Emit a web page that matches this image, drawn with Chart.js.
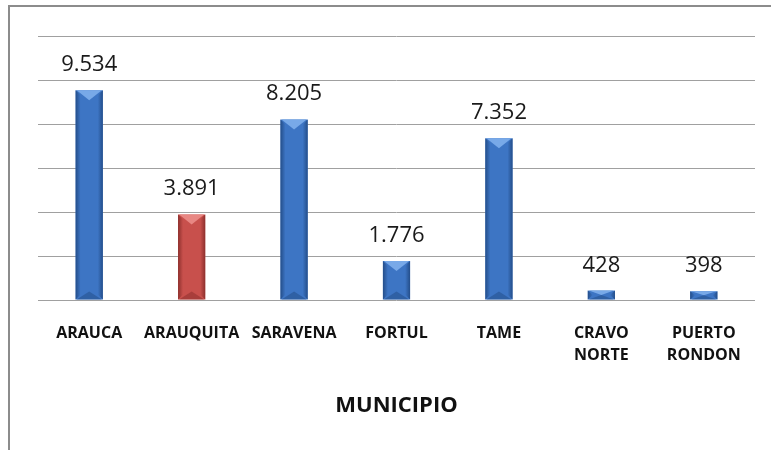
<!DOCTYPE html>
<html>
<head>
<meta charset="utf-8">
<script src="https://cdn.jsdelivr.net/npm/chart.js@4/dist/chart.umd.min.js"></script>
<style>
  html, body { margin: 0; padding: 0; background: #fff; overflow: hidden; }
  #wrap { position: relative; width: 771px; height: 450px; }
  #frame {
    position: absolute; left: 8px; top: 5px; width: 800px; height: 500px;
    border-left: 2px solid #8c8c8c; border-top: 2px solid #8c8c8c;
  }
  canvas { position: absolute; left: 0; top: 0; }
</style>
</head>
<body>
<div id="wrap">
  <div id="frame"></div>
  <canvas id="c" width="771" height="450"></canvas>
</div>
<script>
// Población por municipio
const municipios = ['ARAUCA', 'ARAUQUITA', 'SARAVENA', 'FORTUL', 'TAME', ['CRAVO', 'NORTE'], ['PUERTO', 'RONDON']];
const valores = [9534, 3891, 8205, 1776, 7352, 428, 398];
const destacado = [false, true, false, false, false, false, false];
const yTicks = [0, 2000, 4000, 6000, 8000, 10000, 12000];

const paletas = {
  azul: { face: '#3d75c4', light: '#78a9e8', dark: '#244e8a' },
  rojo: { face: '#c8504c', light: '#e88783', dark: '#8e302d' }
};

function fmt(v) {
  return String(v).replace(/\B(?=(\d{3})+(?!\d))/g, '.');
}

// Bisel de las barras: bordes oscuros y triángulo claro superior
const bisel = {
  id: 'bisel',
  afterDatasetsDraw(chart) {
    const ctx = chart.ctx;
    chart.getDatasetMeta(0).data.forEach((bar, i) => {
      const p = destacado[i] ? paletas.rojo : paletas.azul;
      const l = bar.x - bar.width / 2, r = bar.x + bar.width / 2;
      const t = bar.y, b = bar.base, h = b - t;
      const e = Math.min(5, bar.width / 4);
      ctx.save();
      // borde izquierdo
      let g = ctx.createLinearGradient(l, 0, l + e, 0);
      g.addColorStop(0, p.dark); g.addColorStop(1, p.face);
      ctx.fillStyle = g;
      ctx.beginPath(); ctx.moveTo(l, t); ctx.lineTo(l + e, t + Math.min(e, h / 2)); ctx.lineTo(l + e, b - Math.min(e, h / 2)); ctx.lineTo(l, b); ctx.closePath(); ctx.fill();
      // borde derecho
      g = ctx.createLinearGradient(r, 0, r - e, 0);
      g.addColorStop(0, p.dark); g.addColorStop(1, p.face);
      ctx.fillStyle = g;
      ctx.beginPath(); ctx.moveTo(r, t); ctx.lineTo(r - e, t + Math.min(e, h / 2)); ctx.lineTo(r - e, b - Math.min(e, h / 2)); ctx.lineTo(r, b); ctx.closePath(); ctx.fill();
      // triángulo superior claro
      const d = Math.min(10, h / 2);
      ctx.fillStyle = p.light;
      ctx.beginPath(); ctx.moveTo(l + 1, t); ctx.lineTo(r - 1, t); ctx.lineTo(bar.x, t + d); ctx.closePath(); ctx.fill();
      // triángulo inferior oscuro
      const db = Math.min(8, h / 2);
      ctx.fillStyle = p.dark;
      ctx.globalAlpha = 0.55;
      ctx.beginPath(); ctx.moveTo(l + 1, b); ctx.lineTo(r - 1, b); ctx.lineTo(bar.x, b - db); ctx.closePath(); ctx.fill();
      ctx.restore();
      // etiqueta de valor
      ctx.save();
      ctx.font = '22px "Open Sans"';
      ctx.fillStyle = '#1a1a1a';
      ctx.textAlign = 'center';
      ctx.textBaseline = 'alphabetic';
      ctx.fillText(fmt(valores[i]), bar.x, t - 19);
      ctx.restore();
    });
  }
};

new Chart(document.getElementById('c'), {
  type: 'bar',
  data: {
    labels: municipios,
    datasets: [{
      data: valores,
      backgroundColor: valores.map((v, i) => destacado[i] ? paletas.rojo.face : paletas.azul.face),
      borderWidth: 0,
      categoryPercentage: 1,
      barPercentage: 0.265
    }]
  },
  options: {
    responsive: false,
    animation: false,
    layout: { padding: { left: 38, right: 16, top: 36, bottom: 0 } },
    plugins: { legend: { display: false }, tooltip: { enabled: false } },
    scales: {
      y: {
        min: 0, max: 12000,
        afterBuildTicks(scale) { scale.ticks = yTicks.map(v => ({ value: v })); },
        ticks: { display: false },
        border: { display: false },
        grid: { color: '#a0a0a0', lineWidth: 1, drawTicks: false }
      },
      x: {
        afterFit(scale) { scale.height = 150; },
        grid: { display: false, drawTicks: false },
        border: { display: false },
        ticks: {
          autoSkip: false, maxRotation: 0, minRotation: 0, padding: 22,
          color: '#111',
          font: { family: 'Open Sans', size: 16, weight: 'bold', lineHeight: 1.375 }
        },
        title: {
          display: true, text: 'MUNICIPIO', color: '#111',
          font: { family: 'Open Sans', size: 22, weight: 'bold', lineHeight: 1.2 },
          padding: { top: 0, bottom: 31 }
        }
      }
    }
  },
  plugins: [bisel]
});
</script>
</body>
</html>
